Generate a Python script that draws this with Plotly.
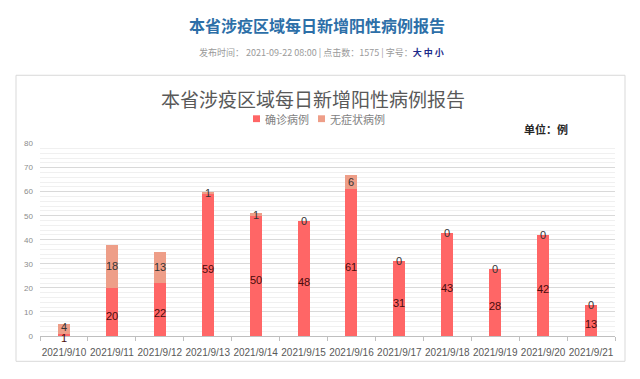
import plotly.graph_objects as go

dates = ["2021/9/10", "2021/9/11", "2021/9/12", "2021/9/13", "2021/9/14", "2021/9/15",
         "2021/9/16", "2021/9/17", "2021/9/18", "2021/9/19", "2021/9/20", "2021/9/21"]
confirmed = [1, 20, 22, 59, 50, 48, 61, 31, 43, 28, 42, 13]
asymptomatic = [4, 18, 13, 1, 1, 0, 6, 0, 0, 0, 0, 0]
series_names = ["确诊病例", "无症状病例"]

C_CONF = "#FF6666"
C_ASYM = "#EE9E88"
FONT = "Noto Sans CJK SC"
NUMFONT = "Liberation Sans"
W, H = 640, 379

def py(px):
    return (H - px) / H

def pxx(px):
    return px / W

fig = go.Figure()
fig.add_trace(go.Bar(x=dates, y=confirmed, name=series_names[0], marker=dict(color=C_CONF, line=dict(width=0)),
                     width=0.25, showlegend=False))
fig.add_trace(go.Bar(x=dates, y=asymptomatic, name=series_names[1], marker=dict(color=C_ASYM, line=dict(width=0)),
                     width=0.25, showlegend=False))

annotations = []
for d, c, a in zip(dates, confirmed, asymptomatic):
    small = c + a < 8
    annotations.append(dict(x=d, y=c / 2, xref="x", yref="y", text=str(c), showarrow=False,
                            yshift=-3 if small else -4,
                            font=dict(family=NUMFONT, size=11, color="#4a0c0c")))
    annotations.append(dict(x=d, y=c + a / 2, xref="x", yref="y", text=str(a), showarrow=False,
                            yshift=2 if small else 0,
                            font=dict(family=NUMFONT, size=11, color="#333333")))

# page header
annotations.append(dict(x=pxx(317), y=py(21), xref="paper", yref="paper", text="<b>本省涉疫区域每日新增阳性病例报告</b>",
                        showarrow=False, xanchor="center", yanchor="middle",
                        font=dict(family=FONT, size=16, color="#2d6fa8")))
annotations.append(dict(x=pxx(321), y=py(50), xref="paper", yref="paper",
                        text="发布时间： 2021-09-22 08:00 | 点击数：1575 | 字号：<span style='color:#1b2a8a'><b>大 中 小</b></span>",
                        showarrow=False, xanchor="center", yanchor="middle",
                        font=dict(family=FONT, size=9, color="#9a9a9a")))
# chart title
annotations.append(dict(x=pxx(313), y=py(97), xref="paper", yref="paper", text="本省涉疫区域每日新增阳性病例报告",
                        showarrow=False, xanchor="center", yanchor="middle",
                        font=dict(family=FONT, size=19, color="#595959")))
annotations.append(dict(x=pxx(546), y=py(128), xref="paper", yref="paper", text="<b>单位：例</b>",
                        showarrow=False, xanchor="center", yanchor="middle",
                        font=dict(family=FONT, size=11, color="#262626")))

shapes = [
    dict(type="rect", xref="paper", yref="paper", x0=pxx(16), x1=pxx(625), y0=py(366), y1=py(73),
         line=dict(color="#d9d9d9", width=1), layer="below"),
]

# legend (manual, compact like the original)
legend_items = [(series_names[0], C_CONF, 253), (series_names[1], C_ASYM, 318)]
for name, col, x0 in legend_items:
    shapes.append(dict(type="rect", xref="paper", yref="paper", x0=pxx(x0), x1=pxx(x0 + 7),
                       y0=py(121), y1=py(114), fillcolor=col, line=dict(width=0)))
    annotations.append(dict(x=pxx(x0 + 10), y=py(117.5), xref="paper", yref="paper", text=name,
                            showarrow=False, xanchor="left", yanchor="middle",
                            font=dict(family=FONT, size=11, color="#7f7f7f")))

fig.update_layout(
    width=W, height=H, margin=dict(l=0, r=0, t=0, b=0),
    paper_bgcolor="white", plot_bgcolor="white",
    barmode="stack", bargap=0.75,
    annotations=annotations, shapes=shapes,
    showlegend=False,
    xaxis=dict(domain=[pxx(40), pxx(615)], showgrid=False, showline=True, linecolor="#bfbfbf",
               ticks="outside", tickson="boundaries", ticklen=4, tickcolor="#bfbfbf",
               tickfont=dict(family=NUMFONT, size=10, color="#595959"), tickangle=0,
               ticklabelstandoff=7, fixedrange=True),
    yaxis=dict(domain=[py(340), py(143)], range=[0, 80], dtick=10, showgrid=True, gridcolor="#d9d9d9",
               gridwidth=1, zeroline=False, showline=False,
               minor=dict(dtick=2, showgrid=True, gridcolor="#f0f0f0", gridwidth=1),
               tickfont=dict(family=NUMFONT, size=8, color="#8c8c8c"), ticklabelstandoff=6, fixedrange=True),
)

fig.write_html("out.html")
